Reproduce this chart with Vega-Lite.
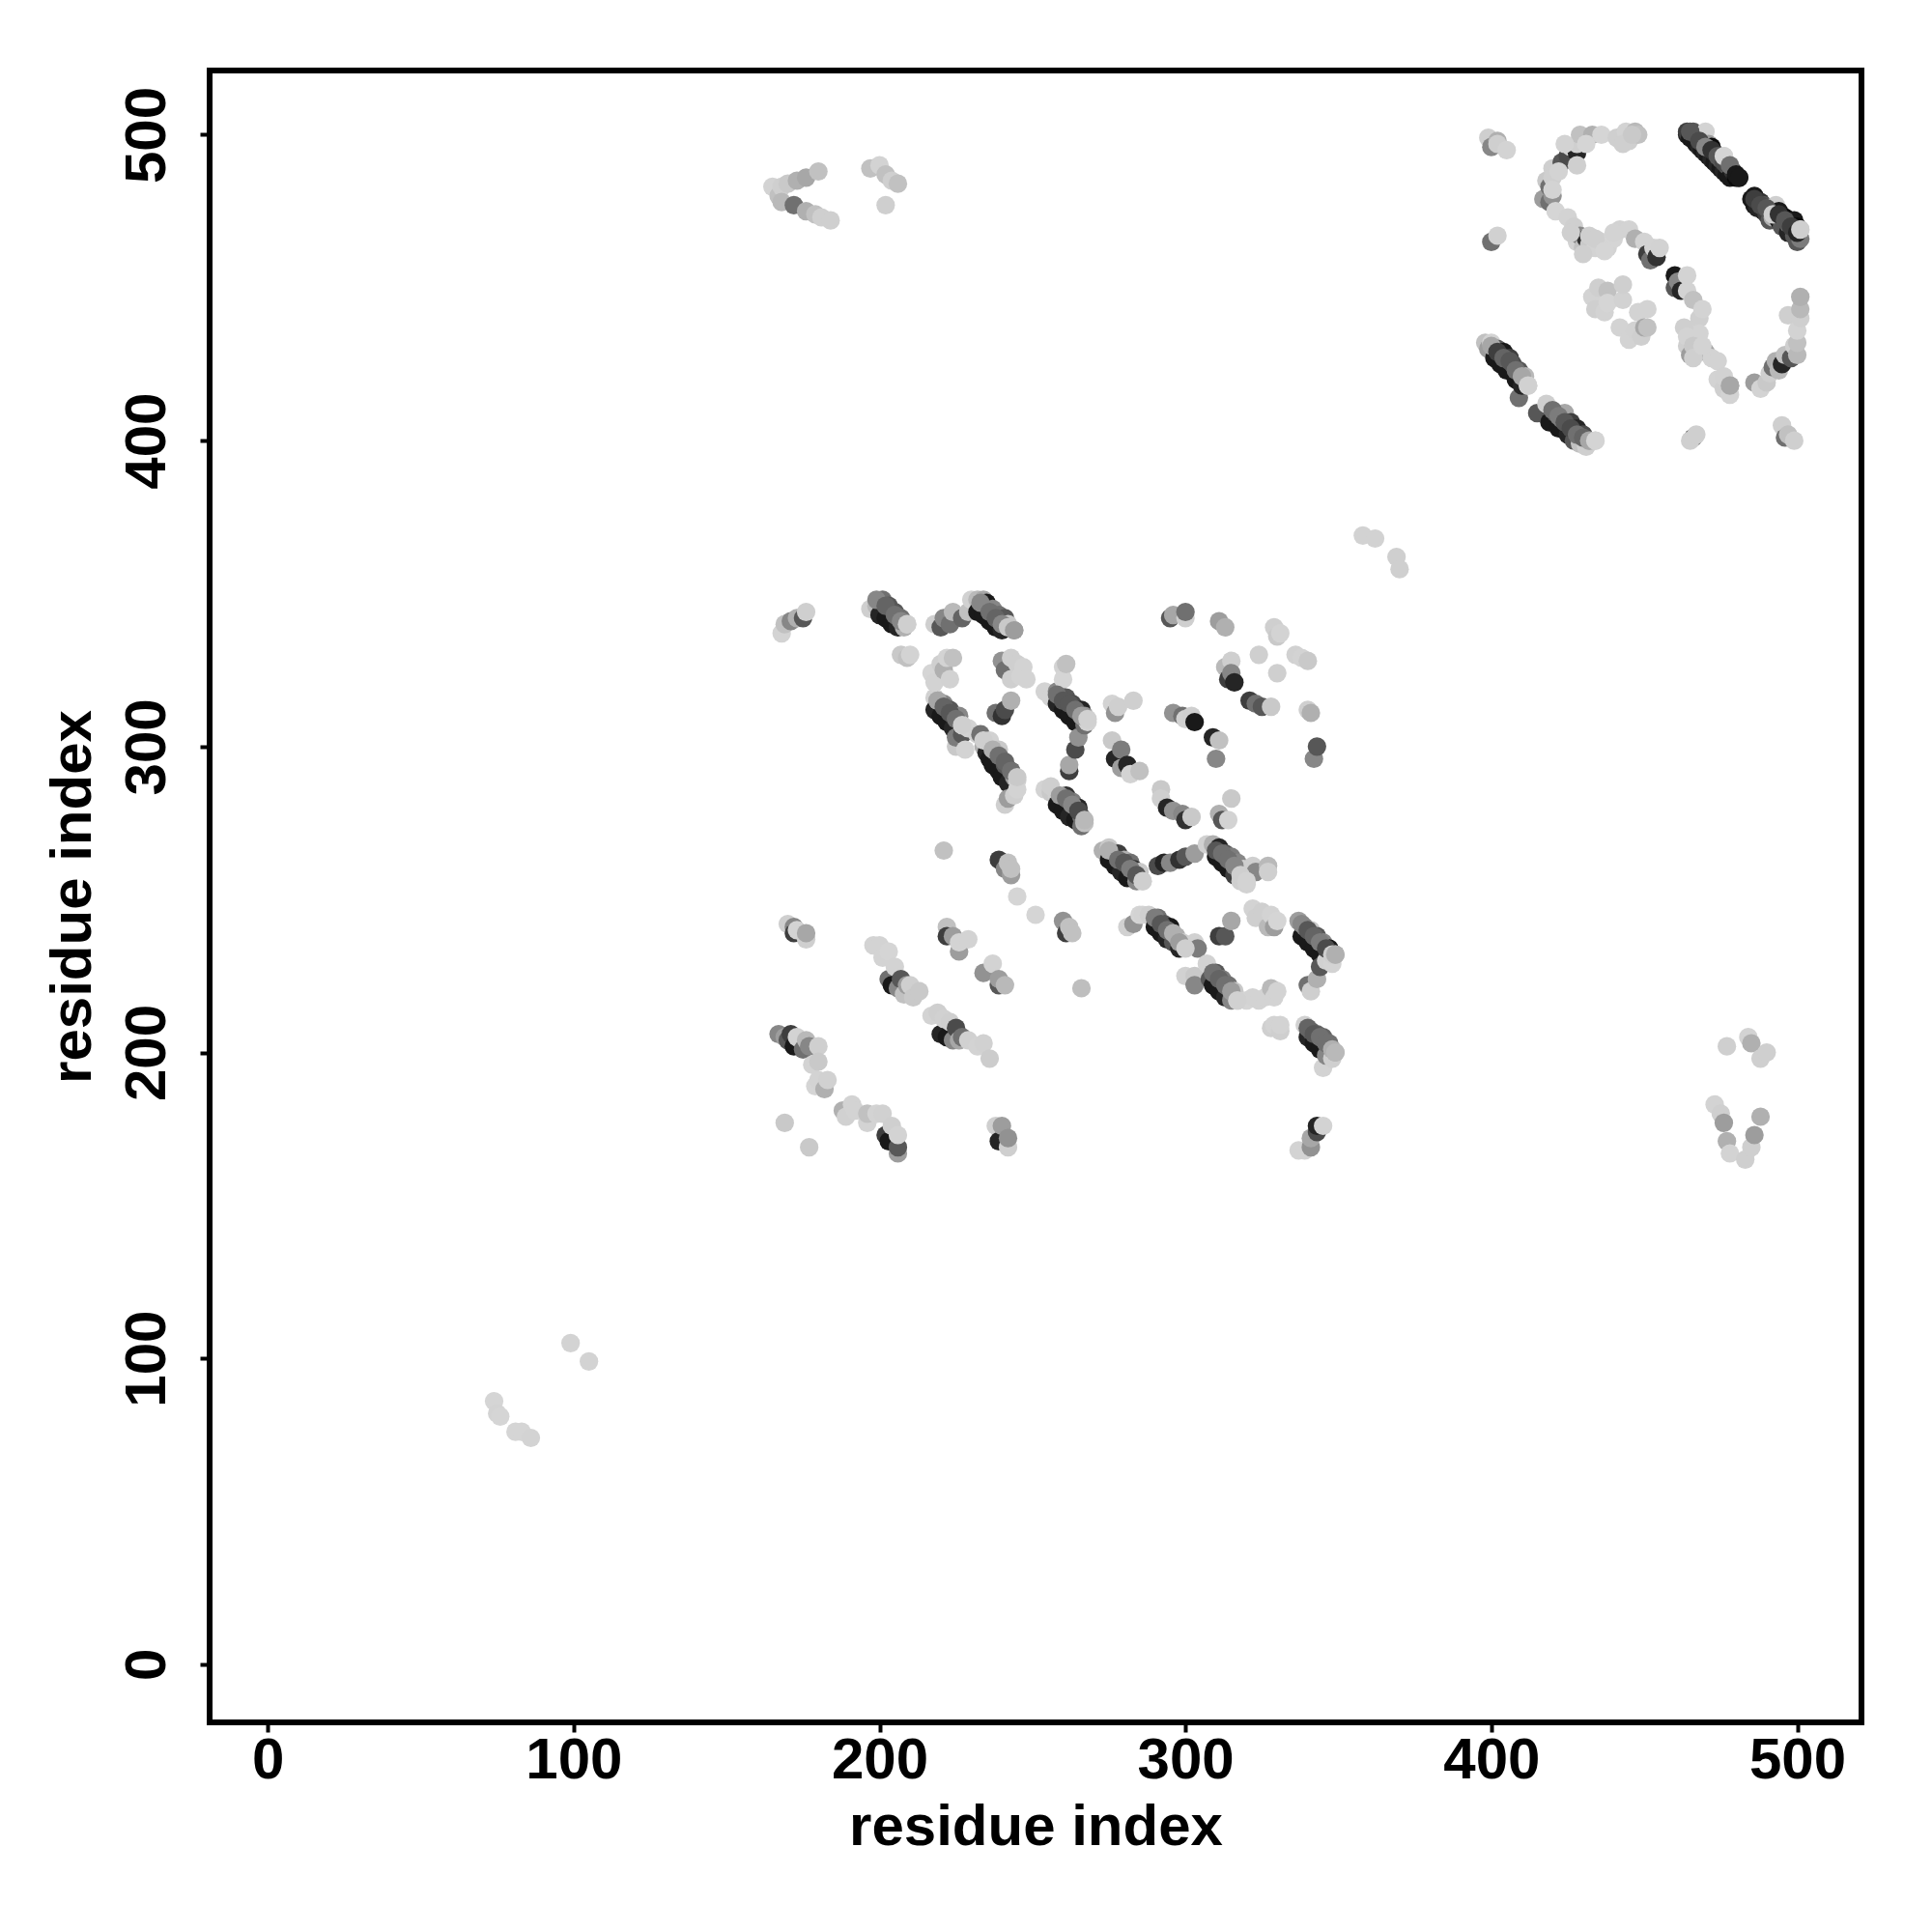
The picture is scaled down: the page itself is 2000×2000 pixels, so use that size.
{"$schema":"https://vega.github.io/schema/vega-lite/v6.json","width":1710,"height":1710,"autosize":{"type":"none"},"padding":{"left":217,"top":73,"right":73,"bottom":217},"background":"white","config":{"view":{"stroke":"#000","strokeWidth":6},"font":"Liberation Sans"},
"data":{"values":[
{"x":74,"y":86,"v":0.03},{"x":75,"y":82,"v":0.05},{"x":76,"y":81,"v":0.03},{"x":81,"y":76,"v":0.03},{"x":83,"y":76,"v":0.03},{"x":86,"y":74,"v":0.05},{"x":99,"y":105,"v":0.05},{"x":105,"y":99,"v":0.05},
{"x":165,"y":483,"v":0.05},{"x":167,"y":480,"v":0.2},{"x":168,"y":483,"v":0.1},{"x":168,"y":478,"v":0.25},{"x":170,"y":484,"v":0.15},{"x":172,"y":477,"v":0.6},{"x":173,"y":485,"v":0.3},{"x":176,"y":486,"v":0.35},{"x":176,"y":475,"v":0.3},{"x":179,"y":474,"v":0.2},{"x":180,"y":488,"v":0.2},{"x":181,"y":473,"v":0.1},{"x":184,"y":472,"v":0.1},
{"x":197,"y":489,"v":0.2},{"x":200,"y":490,"v":0.05},{"x":202,"y":487,"v":0.2},{"x":202,"y":477,"v":0.1},{"x":204,"y":485,"v":0.1},{"x":206,"y":484,"v":0.2},
{"x":168,"y":337,"v":0.05},{"x":169,"y":340,"v":0.2},{"x":171,"y":341,"v":0.5},{"x":173,"y":342,"v":0.3},{"x":175,"y":342,"v":0.7},{"x":176,"y":344,"v":0.1},
{"x":170,"y":242,"v":0.1},{"x":172,"y":241,"v":0.5},{"x":172,"y":239,"v":0.8},{"x":173,"y":240,"v":0.05},{"x":176,"y":237,"v":0.1},{"x":176,"y":239,"v":0.35},
{"x":169,"y":177,"v":0.15},{"x":177,"y":169,"v":0.15},
{"x":167,"y":206,"v":0.5},{"x":169,"y":205,"v":0.4},{"x":170,"y":204,"v":0.7},{"x":171,"y":206,"v":0.8},{"x":172,"y":202,"v":0.95},{"x":173,"y":205,"v":0.05},{"x":175,"y":201,"v":0.6},{"x":176,"y":204,"v":0.25},{"x":177,"y":202,"v":0.5},{"x":178,"y":196,"v":0.05},{"x":180,"y":202,"v":0.1},{"x":180,"y":197,"v":0.15},{"x":179,"y":189,"v":0.03},{"x":180,"y":191,"v":0.05},{"x":182,"y":188,"v":0.3},{"x":183,"y":191,"v":0.08},
{"x":188,"y":181,"v":0.3},{"x":189,"y":179,"v":0.08},{"x":191,"y":183,"v":0.05},{"x":192,"y":181,"v":0.05},{"x":196,"y":177,"v":0.05},{"x":196,"y":180,"v":0.2},{"x":199,"y":180,"v":0.05},{"x":201,"y":180,"v":0.08},{"x":202,"y":173,"v":0.8},{"x":203,"y":171,"v":0.95},{"x":204,"y":176,"v":0.1},{"x":206,"y":167,"v":0.4},{"x":206,"y":169,"v":0.7},{"x":206,"y":173,"v":0.05},
{"x":198,"y":235,"v":0.05},{"x":200,"y":235,"v":0.05},{"x":201,"y":231,"v":0.05},{"x":203,"y":233,"v":0.03},{"x":203,"y":224,"v":0.6},{"x":204,"y":222,"v":0.95},{"x":205,"y":228,"v":0.05},{"x":206,"y":221,"v":0.5},{"x":207,"y":224,"v":0.7},{"x":208,"y":219,"v":0.2},{"x":209,"y":222,"v":0.4},{"x":210,"y":222,"v":0.1},{"x":211,"y":218,"v":0.15},{"x":213,"y":220,"v":0.15},
{"x":197,"y":345,"v":0.1},{"x":199,"y":346,"v":0.25},{"x":200,"y":343,"v":0.9},{"x":201,"y":348,"v":0.6},{"x":202,"y":342,"v":0.95},{"x":203,"y":346,"v":0.7},{"x":204,"y":340,"v":0.95},{"x":205,"y":344,"v":0.7},{"x":206,"y":339,"v":0.9},{"x":207,"y":342,"v":0.6},{"x":208,"y":339,"v":0.3},{"x":209,"y":340,"v":0.08},
{"x":207,"y":330,"v":0.15},{"x":209,"y":329,"v":0.2},{"x":210,"y":330,"v":0.05},
{"x":217,"y":212,"v":0.05},{"x":219,"y":213,"v":0.1},{"x":220,"y":206,"v":0.9},{"x":221,"y":211,"v":0.08},{"x":222,"y":205,"v":0.95},{"x":223,"y":210,"v":0.1},{"x":224,"y":204,"v":0.5},{"x":225,"y":208,"v":0.75},{"x":226,"y":204,"v":0.35},{"x":227,"y":205,"v":0.6},{"x":229,"y":204,"v":0.08},{"x":232,"y":202,"v":0.05},{"x":234,"y":203,"v":0.08},{"x":236,"y":198,"v":0.12},
{"x":222,"y":241,"v":0.2},{"x":222,"y":238,"v":0.8},{"x":224,"y":238,"v":0.4},{"x":226,"y":233,"v":0.4},{"x":226,"y":236,"v":0.05},{"x":229,"y":237,"v":0.05},
{"x":234,"y":226,"v":0.45},{"x":237,"y":229,"v":0.05},{"x":239,"y":222,"v":0.7},{"x":239,"y":224,"v":0.4},{"x":241,"y":222,"v":0.25},
{"x":238,"y":176,"v":0.1},{"x":239,"y":171,"v":0.9},{"x":240,"y":176,"v":0.4},{"x":242,"y":169,"v":0.1},{"x":242,"y":172,"v":0.45},
{"x":218,"y":340,"v":0.1},{"x":220,"y":339,"v":0.7},{"x":221,"y":342,"v":0.5},{"x":223,"y":340,"v":0.6},{"x":224,"y":344,"v":0.25},{"x":227,"y":342,"v":0.65},{"x":229,"y":344,"v":0.2},{"x":230,"y":348,"v":0.08},{"x":232,"y":348,"v":0.25},{"x":232,"y":344,"v":0.95},{"x":234,"y":348,"v":0.35},{"x":234,"y":343,"v":0.95},{"x":235,"y":347,"v":0.95},{"x":236,"y":341,"v":0.95},{"x":237,"y":345,"v":0.5},{"x":238,"y":339,"v":0.95},{"x":239,"y":343,"v":0.6},{"x":240,"y":338,"v":0.9},{"x":241,"y":342,"v":0.7},{"x":242,"y":340,"v":0.15},{"x":244,"y":338,"v":0.35},
{"x":218,"y":316,"v":0.08},{"x":218,"y":312,"v":0.9},{"x":219,"y":315,"v":0.3},{"x":220,"y":310,"v":0.95},{"x":221,"y":314,"v":0.5},{"x":222,"y":308,"v":0.95},{"x":223,"y":312,"v":0.7},{"x":224,"y":306,"v":0.9},{"x":225,"y":300,"v":0.15},{"x":225,"y":303,"v":0.55},{"x":226,"y":310,"v":0.5},{"x":227,"y":304,"v":0.7},{"x":227,"y":307,"v":0.07},{"x":228,"y":299,"v":0.05},{"x":229,"y":306,"v":0.05},
{"x":217,"y":324,"v":0.03},{"x":218,"y":321,"v":0.05},{"x":220,"y":327,"v":0.1},{"x":221,"y":325,"v":0.3},{"x":222,"y":329,"v":0.05},{"x":223,"y":322,"v":0.07},{"x":224,"y":329,"v":0.2},
{"x":232,"y":304,"v":0.08},{"x":233,"y":304,"v":0.6},{"x":234,"y":300,"v":0.3},{"x":235,"y":298,"v":0.9},{"x":236,"y":302,"v":0.07},{"x":236,"y":296,"v":0.95},{"x":237,"y":294,"v":0.95},{"x":238,"y":298,"v":0.85},{"x":239,"y":292,"v":0.95},{"x":239,"y":299,"v":0.15},{"x":240,"y":290,"v":0.95},{"x":241,"y":281,"v":0.1},{"x":241,"y":294,"v":0.7},{"x":242,"y":288,"v":0.9},{"x":242,"y":283,"v":0.4},{"x":243,"y":292,"v":0.75},{"x":244,"y":284,"v":0.1},{"x":244,"y":290,"v":0.4},{"x":245,"y":289,"v":0.1},{"x":245,"y":286,"v":0.05},
{"x":238,"y":311,"v":0.6},{"x":240,"y":310,"v":0.85},{"x":241,"y":312,"v":0.75},{"x":243,"y":315,"v":0.3},
{"x":239,"y":263,"v":0.8},{"x":241,"y":260,"v":0.5},{"x":242,"y":262,"v":0.2},{"x":243,"y":258,"v":0.4},{"x":243,"y":260,"v":0.2},
{"x":240,"y":328,"v":0.45},{"x":241,"y":325,"v":0.6},{"x":243,"y":329,"v":0.1},{"x":243,"y":322,"v":0.1},{"x":245,"y":327,"v":0.1},{"x":246,"y":323,"v":0.05},{"x":247,"y":326,"v":0.05},{"x":248,"y":322,"v":0.05},
{"x":221,"y":266,"v":0.2},{"x":245,"y":251,"v":0.03},{"x":251,"y":245,"v":0.03},
{"x":254,"y":318,"v":0.05},{"x":256,"y":316,"v":0.05},{"x":258,"y":318,"v":0.5},{"x":258,"y":314,"v":0.9},{"x":260,"y":326,"v":0.05},{"x":260,"y":322,"v":0.03},{"x":260,"y":312,"v":0.95},{"x":261,"y":316,"v":0.7},{"x":261,"y":327,"v":0.2},{"x":262,"y":310,"v":0.95},{"x":262,"y":292,"v":0.8},{"x":262,"y":294,"v":0.35},{"x":263,"y":314,"v":0.75},{"x":264,"y":308,"v":0.95},{"x":264,"y":299,"v":0.75},{"x":265,"y":303,"v":0.45},{"x":266,"y":312,"v":0.9},{"x":267,"y":307,"v":0.6},{"x":267,"y":310,"v":0.45},{"x":268,"y":308,"v":0.05},
{"x":260,"y":243,"v":0.45},{"x":261,"y":239,"v":0.8},{"x":262,"y":241,"v":0.2},{"x":263,"y":239,"v":0.2},{"x":266,"y":221,"v":0.22},
{"x":254,"y":286,"v":0.05},{"x":256,"y":285,"v":0.15},{"x":258,"y":284,"v":0.1},{"x":258,"y":281,"v":0.95},{"x":260,"y":279,"v":0.95},{"x":261,"y":284,"v":0.85},{"x":262,"y":277,"v":0.9},{"x":263,"y":282,"v":0.55},{"x":264,"y":276,"v":0.95},{"x":265,"y":280,"v":0.9},{"x":266,"y":274,"v":0.6},{"x":266,"y":277,"v":0.6},{"x":267,"y":275,"v":0.2},
{"x":273,"y":266,"v":0.3},{"x":275,"y":267,"v":0.15},{"x":275,"y":263,"v":0.95},{"x":277,"y":261,"v":0.95},{"x":278,"y":265,"v":0.8},{"x":279,"y":259,"v":0.9},{"x":280,"y":263,"v":0.3},{"x":281,"y":257,"v":0.95},{"x":282,"y":262,"v":0.6},{"x":283,"y":260,"v":0.85},{"x":284,"y":256,"v":0.5},{"x":285,"y":259,"v":0.15},{"x":286,"y":256,"v":0.08},
{"x":276,"y":314,"v":0.05},{"x":277,"y":311,"v":0.45},{"x":278,"y":313,"v":0.1},{"x":283,"y":315,"v":0.1},{"x":276,"y":302,"v":0.15},{"x":277,"y":296,"v":0.9},{"x":279,"y":299,"v":0.55},{"x":279,"y":293,"v":0.4},{"x":281,"y":294,"v":0.9},{"x":282,"y":291,"v":0.05},{"x":285,"y":292,"v":0.2},
{"x":281,"y":241,"v":0.08},{"x":283,"y":242,"v":0.45},{"x":285,"y":245,"v":0.03},{"x":286,"y":245,"v":0.05},{"x":288,"y":245,"v":0.1},{"x":290,"y":241,"v":0.95},{"x":291,"y":244,"v":0.6},{"x":292,"y":239,"v":0.95},{"x":293,"y":242,"v":0.7},{"x":294,"y":237,"v":0.9},{"x":295,"y":241,"v":0.95},{"x":296,"y":236,"v":0.7},{"x":297,"y":238,"v":0.3},{"x":298,"y":234,"v":0.9},{"x":299,"y":236,"v":0.1},{"x":303,"y":236,"v":0.08},{"x":304,"y":234,"v":0.55},
{"x":291,"y":261,"v":0.75},{"x":293,"y":262,"v":0.9},{"x":295,"y":262,"v":0.5},{"x":298,"y":263,"v":0.85},{"x":300,"y":264,"v":0.7},{"x":303,"y":265,"v":0.4},
{"x":292,"y":286,"v":0.15},{"x":292,"y":283,"v":0.1},{"x":294,"y":280,"v":0.9},{"x":296,"y":279,"v":0.45},{"x":299,"y":278,"v":0.5},{"x":300,"y":276,"v":0.85},{"x":302,"y":277,"v":0.15},
{"x":295,"y":342,"v":0.7},{"x":296,"y":343,"v":0.35},{"x":300,"y":342,"v":0.1},{"x":300,"y":344,"v":0.6},
{"x":296,"y":311,"v":0.45},{"x":299,"y":310,"v":0.6},{"x":300,"y":309,"v":0.08},{"x":302,"y":310,"v":0.1},{"x":303,"y":308,"v":0.95},
{"x":300,"y":225,"v":0.08},{"x":303,"y":225,"v":0.15},{"x":303,"y":222,"v":0.5},{"x":307,"y":229,"v":0.07},{"x":308,"y":224,"v":0.7},{"x":309,"y":222,"v":0.95},{"x":310,"y":226,"v":0.7},{"x":311,"y":220,"v":0.95},{"x":312,"y":224,"v":0.55},{"x":313,"y":218,"v":0.9},{"x":314,"y":222,"v":0.6},{"x":315,"y":217,"v":0.5},{"x":316,"y":220,"v":0.15},{"x":317,"y":217,"v":0.05},
{"x":307,"y":268,"v":0.08},{"x":309,"y":268,"v":0.3},{"x":310,"y":264,"v":0.95},{"x":311,"y":267,"v":0.9},{"x":312,"y":262,"v":0.95},{"x":313,"y":265,"v":0.7},{"x":314,"y":260,"v":0.95},{"x":315,"y":264,"v":0.55},{"x":316,"y":258,"v":0.8},{"x":317,"y":262,"v":0.5},{"x":318,"y":256,"v":0.1},{"x":319,"y":260,"v":0.1},{"x":320,"y":255,"v":0.07},{"x":322,"y":261,"v":0.1},{"x":323,"y":259,"v":0.5},{"x":327,"y":261,"v":0.25},{"x":327,"y":259,"v":0.1},
{"x":309,"y":303,"v":0.9},{"x":310,"y":296,"v":0.5},{"x":311,"y":302,"v":0.2},{"x":311,"y":278,"v":0.3},{"x":312,"y":276,"v":0.7},{"x":314,"y":276,"v":0.05},{"x":315,"y":283,"v":0.15},
{"x":311,"y":238,"v":0.8},{"x":313,"y":238,"v":0.7},{"x":315,"y":243,"v":0.35},
{"x":311,"y":341,"v":0.4},{"x":313,"y":339,"v":0.3},{"x":313,"y":326,"v":0.25},{"x":314,"y":322,"v":0.8},{"x":315,"y":328,"v":0.1},{"x":315,"y":324,"v":0.5},{"x":316,"y":321,"v":0.9},
{"x":321,"y":315,"v":0.8},{"x":323,"y":314,"v":0.6},{"x":324,"y":330,"v":0.1},{"x":325,"y":313,"v":0.7},{"x":328,"y":313,"v":0.15},
{"x":322,"y":247,"v":0.05},{"x":323,"y":244,"v":0.1},{"x":325,"y":246,"v":0.1},{"x":327,"y":241,"v":0.25},{"x":328,"y":245,"v":0.05},{"x":329,"y":241,"v":0.4},{"x":330,"y":243,"v":0.03},
{"x":320,"y":217,"v":0.03},{"x":322,"y":218,"v":0.05},{"x":324,"y":217,"v":0.05},{"x":326,"y":218,"v":0.05},{"x":328,"y":221,"v":0.25},{"x":329,"y":218,"v":0.05},{"x":330,"y":220,"v":0.05},
{"x":328,"y":208,"v":0.1},{"x":329,"y":209,"v":0.05},{"x":331,"y":207,"v":0.1},{"x":331,"y":209,"v":0.05},
{"x":329,"y":339,"v":0.1},{"x":330,"y":336,"v":0.15},{"x":331,"y":337,"v":0.05},{"x":330,"y":324,"v":0.1},{"x":336,"y":330,"v":0.08},{"x":338,"y":329,"v":0.05},{"x":340,"y":328,"v":0.15},{"x":340,"y":312,"v":0.1},{"x":341,"y":311,"v":0.3},{"x":342,"y":296,"v":0.5},{"x":343,"y":300,"v":0.7},
{"x":337,"y":168,"v":0.05},{"x":339,"y":168,"v":0.05},{"x":341,"y":169,"v":0.45},{"x":341,"y":172,"v":0.35},{"x":343,"y":174,"v":0.75},{"x":343,"y":176,"v":0.9},{"x":345,"y":176,"v":0.05},
{"x":337,"y":243,"v":0.4},{"x":338,"y":238,"v":0.95},{"x":339,"y":241,"v":0.55},{"x":340,"y":236,"v":0.95},{"x":340,"y":222,"v":0.6},{"x":341,"y":240,"v":0.15},{"x":341,"y":220,"v":0.1},{"x":342,"y":234,"v":0.95},{"x":343,"y":238,"v":0.7},{"x":343,"y":224,"v":0.3},{"x":344,"y":232,"v":0.95},{"x":344,"y":228,"v":0.7},{"x":345,"y":236,"v":0.5},{"x":346,"y":230,"v":0.08},{"x":347,"y":234,"v":0.95},{"x":348,"y":229,"v":0.05},{"x":349,"y":232,"v":0.3},
{"x":339,"y":209,"v":0.08},{"x":340,"y":205,"v":0.9},{"x":341,"y":207,"v":0.7},{"x":342,"y":203,"v":0.95},{"x":343,"y":206,"v":0.65},{"x":344,"y":201,"v":0.95},{"x":345,"y":205,"v":0.65},{"x":345,"y":195,"v":0.05},{"x":346,"y":199,"v":0.5},{"x":347,"y":203,"v":0.6},{"x":348,"y":198,"v":0.1},{"x":349,"y":200,"v":0.3},
{"x":358,"y":369,"v":0.07},{"x":362,"y":368,"v":0.07},{"x":369,"y":362,"v":0.1},{"x":370,"y":358,"v":0.1},
{"x":398,"y":432,"v":0.2},{"x":399,"y":430,"v":0.4},{"x":400,"y":432,"v":0.05},{"x":401,"y":427,"v":0.95},{"x":402,"y":430,"v":0.7},{"x":403,"y":425,"v":0.95},{"x":404,"y":429,"v":0.95},{"x":405,"y":423,"v":0.95},{"x":406,"y":427,"v":0.8},{"x":407,"y":425,"v":0.75},{"x":408,"y":420,"v":0.95},{"x":409,"y":423,"v":0.7},{"x":409,"y":414,"v":0.6},{"x":410,"y":418,"v":0.9},{"x":411,"y":421,"v":0.25},{"x":412,"y":418,"v":0.08},
{"x":399,"y":499,"v":0.1},{"x":400,"y":496,"v":0.5},{"x":402,"y":498,"v":0.3},{"x":402,"y":497,"v":0.1},{"x":405,"y":495,"v":0.05},{"x":400,"y":465,"v":0.6},{"x":402,"y":467,"v":0.08},
{"x":415,"y":409,"v":0.7},{"x":418,"y":412,"v":0.1},{"x":419,"y":406,"v":0.95},{"x":421,"y":409,"v":0.7},{"x":422,"y":404,"v":0.95},{"x":423,"y":407,"v":0.55},{"x":424,"y":409,"v":0.35},{"x":425,"y":402,"v":0.9},{"x":426,"y":406,"v":0.8},{"x":427,"y":400,"v":0.7},{"x":428,"y":404,"v":0.9},{"x":429,"y":399,"v":0.2},{"x":430,"y":402,"v":0.75},{"x":431,"y":398,"v":0.1},{"x":432,"y":400,"v":0.3},{"x":434,"y":400,"v":0.05},
{"x":417,"y":479,"v":0.4},{"x":418,"y":485,"v":0.15},{"x":419,"y":478,"v":0.6},{"x":420,"y":480,"v":0.45},{"x":420,"y":489,"v":0.1},{"x":419,"y":483,"v":0.6},{"x":420,"y":486,"v":0.1},{"x":421,"y":475,"v":0.03},{"x":423,"y":491,"v":0.7},{"x":425,"y":473,"v":0.05},{"x":425,"y":493,"v":0.75},{"x":426,"y":496,"v":0.1},{"x":427,"y":470,"v":0.1},{"x":428,"y":494,"v":0.9},{"x":428,"y":465,"v":0.05},{"x":428,"y":497,"v":0.1},{"x":429,"y":500,"v":0.2},{"x":429,"y":467,"v":0.5},{"x":430,"y":463,"v":0.2},{"x":431,"y":466,"v":0.85},{"x":432,"y":464,"v":0.15},{"x":433,"y":500,"v":0.3},{"x":434,"y":463,"v":0.05},{"x":436,"y":500,"v":0.03},{"x":436,"y":465,"v":0.05},{"x":438,"y":463,"v":0.05},{"x":440,"y":466,"v":0.03},{"x":441,"y":499,"v":0.1},{"x":442,"y":469,"v":0.07},{"x":444,"y":501,"v":0.05},{"x":445,"y":498,"v":0.1},{"x":445,"y":469,"v":0.05},{"x":447,"y":466,"v":0.3},{"x":447,"y":501,"v":0.25},{"x":448,"y":500,"v":0.2},{"x":450,"y":465,"v":0.05},{"x":451,"y":461,"v":0.8},{"x":452,"y":459,"v":0.6},{"x":453,"y":463,"v":0.05},{"x":454,"y":460,"v":0.85},{"x":455,"y":463,"v":0.07},
{"x":433,"y":447,"v":0.05},{"x":434,"y":443,"v":0.1},{"x":435,"y":450,"v":0.1},{"x":437,"y":442,"v":0.05},{"x":438,"y":449,"v":0.2},{"x":438,"y":445,"v":0.02},{"x":443,"y":446,"v":0.07},{"x":443,"y":451,"v":0.1},
{"x":442,"y":437,"v":0.05},{"x":445,"y":433,"v":0.05},{"x":447,"y":436,"v":0.07},{"x":448,"y":442,"v":0.05},{"x":449,"y":434,"v":0.1},{"x":450,"y":437,"v":0.35},{"x":451,"y":443,"v":0.05},{"x":451,"y":437,"v":0.2},
{"x":460,"y":454,"v":0.95},{"x":460,"y":450,"v":0.7},{"x":461,"y":452,"v":0.5},{"x":462,"y":449,"v":0.9},{"x":464,"y":454,"v":0.05},{"x":464,"y":449,"v":0.05},{"x":464,"y":431,"v":0.1},{"x":465,"y":436,"v":0.05},{"x":465,"y":428,"v":0.4},{"x":466,"y":446,"v":0.2},{"x":466,"y":401,"v":0.6},{"x":465,"y":400,"v":0.1},{"x":467,"y":432,"v":0.8},{"x":467,"y":402,"v":0.1},{"x":468,"y":440,"v":0.1},{"x":468,"y":435,"v":0.05},{"x":469,"y":443,"v":0.05},{"x":470,"y":429,"v":0.35},{"x":472,"y":427,"v":0.05},{"x":474,"y":426,"v":0.05},
{"x":474,"y":420,"v":0.05},{"x":477,"y":417,"v":0.25},{"x":478,"y":418,"v":0.35},
{"x":473,"y":183,"v":0.05},{"x":475,"y":180,"v":0.1},{"x":476,"y":177,"v":0.4},{"x":477,"y":202,"v":0.1},{"x":477,"y":171,"v":0.3},{"x":478,"y":167,"v":0.05},{"x":483,"y":165,"v":0.1},{"x":484,"y":205,"v":0.05},{"x":485,"y":169,"v":0.1},{"x":485,"y":203,"v":0.3},{"x":486,"y":173,"v":0.4},{"x":488,"y":179,"v":0.3},{"x":488,"y":198,"v":0.1},{"x":490,"y":200,"v":0.1},
{"x":464,"y":500,"v":0.9},{"x":464,"y":501,"v":0.8},{"x":465,"y":499,"v":0.95},{"x":466,"y":501,"v":0.7},{"x":467,"y":497,"v":0.95},{"x":467,"y":500,"v":0.8},{"x":468,"y":496,"v":0.9},{"x":469,"y":495,"v":0.95},{"x":469,"y":498,"v":0.7},{"x":470,"y":501,"v":0.05},{"x":470,"y":494,"v":0.9},{"x":471,"y":493,"v":0.95},{"x":471,"y":497,"v":0.4},{"x":472,"y":492,"v":0.9},{"x":472,"y":496,"v":1},{"x":473,"y":491,"v":0.95},{"x":473,"y":494,"v":0.9},{"x":474,"y":490,"v":0.9},{"x":475,"y":489,"v":0.95},{"x":475,"y":492,"v":0.7},{"x":476,"y":488,"v":0.9},{"x":476,"y":493,"v":0.03},{"x":477,"y":487,"v":0.95},{"x":477,"y":490,"v":0.7},{"x":478,"y":486,"v":0.95},{"x":479,"y":488,"v":0.85},{"x":480,"y":486,"v":1},{"x":481,"y":486,"v":1},
{"x":485,"y":479,"v":0.95},{"x":486,"y":477,"v":0.95},{"x":486,"y":480,"v":0.95},{"x":487,"y":476,"v":0.9},{"x":488,"y":478,"v":0.85},{"x":489,"y":475,"v":0.9},{"x":489,"y":477,"v":0.7},{"x":490,"y":474,"v":0.8},{"x":491,"y":472,"v":0.7},{"x":492,"y":473,"v":0.3},{"x":493,"y":477,"v":0.1},{"x":494,"y":472,"v":0.95},{"x":494,"y":475,"v":0.95},{"x":495,"y":470,"v":0.7},{"x":496,"y":473,"v":1},{"x":497,"y":468,"v":0.9},{"x":497,"y":471,"v":0.6},{"x":498,"y":470,"v":0.8},{"x":499,"y":467,"v":0.7},{"x":499,"y":472,"v":0.95},{"x":500,"y":465,"v":0.7},{"x":500,"y":470,"v":1},{"x":501,"y":466,"v":0.55},{"x":501,"y":469,"v":0.1},
{"x":486,"y":419,"v":0.4},{"x":488,"y":417,"v":0.05},{"x":490,"y":419,"v":0.15},{"x":491,"y":422,"v":0.1},{"x":492,"y":424,"v":0.6},{"x":493,"y":426,"v":0.3},{"x":494,"y":423,"v":0.25},{"x":495,"y":425,"v":0.9},{"x":495,"y":405,"v":0.1},{"x":496,"y":401,"v":0.6},{"x":496,"y":428,"v":0.2},{"x":497,"y":402,"v":0.2},{"x":497,"y":441,"v":0.1},{"x":498,"y":427,"v":0.7},{"x":499,"y":400,"v":0.1},{"x":499,"y":431,"v":0.1},{"x":500,"y":428,"v":0.25},{"x":500,"y":432,"v":0.2},{"x":500,"y":436,"v":0.05},{"x":501,"y":440,"v":0.1},{"x":501,"y":443,"v":0.25},{"x":501,"y":447,"v":0.3},
{"x":199,"y":348,"v":0.5},{"x":202,"y":346,"v":0.65},{"x":205,"y":343,"v":0.6},{"x":207,"y":341,"v":0.5},{"x":209,"y":340,"v":0.1},
{"x":233,"y":347,"v":0.5},{"x":236,"y":344,"v":0.6},{"x":238,"y":342,"v":0.65},{"x":240,"y":340,"v":0.5},{"x":242,"y":339,"v":0.15},{"x":244,"y":338,"v":0.4},
{"x":219,"y":315,"v":0.35},{"x":221,"y":313,"v":0.65},{"x":223,"y":311,"v":0.7},{"x":225,"y":309,"v":0.6},{"x":227,"y":307,"v":0.1},
{"x":234,"y":302,"v":0.1},{"x":237,"y":299,"v":0.3},{"x":239,"y":297,"v":0.6},{"x":241,"y":295,"v":0.65},{"x":243,"y":292,"v":0.6},{"x":245,"y":290,"v":0.15},
{"x":258,"y":317,"v":0.6},{"x":260,"y":315,"v":0.7},{"x":262,"y":314,"v":0.7},{"x":264,"y":312,"v":0.6},{"x":266,"y":310,"v":0.4},{"x":268,"y":309,"v":0.08},
{"x":256,"y":287,"v":0.1},{"x":259,"y":284,"v":0.4},{"x":261,"y":283,"v":0.6},{"x":263,"y":281,"v":0.5},{"x":265,"y":279,"v":0.75},{"x":267,"y":276,"v":0.25},
{"x":275,"y":266,"v":0.3},{"x":278,"y":263,"v":0.6},{"x":280,"y":262,"v":0.7},{"x":282,"y":260,"v":0.55},{"x":284,"y":258,"v":0.7},{"x":286,"y":256,"v":0.1},
{"x":290,"y":244,"v":0.55},{"x":292,"y":242,"v":0.7},{"x":294,"y":240,"v":0.6},{"x":296,"y":239,"v":0.3},{"x":298,"y":236,"v":0.4},{"x":300,"y":234,"v":0.1},
{"x":309,"y":226,"v":0.6},{"x":311,"y":224,"v":0.65},{"x":313,"y":222,"v":0.6},{"x":315,"y":220,"v":0.4},{"x":317,"y":217,"v":0.08},
{"x":310,"y":266,"v":0.7},{"x":312,"y":265,"v":0.6},{"x":314,"y":263,"v":0.6},{"x":316,"y":261,"v":0.5},{"x":318,"y":258,"v":0.1},{"x":320,"y":256,"v":0.05},
{"x":338,"y":242,"v":0.5},{"x":340,"y":240,"v":0.7},{"x":342,"y":238,"v":0.65},{"x":344,"y":236,"v":0.55},{"x":346,"y":234,"v":0.75},{"x":348,"y":232,"v":0.1},{"x":349,"y":232,"v":0.3},
{"x":340,"y":208,"v":0.65},{"x":342,"y":206,"v":0.7},{"x":344,"y":205,"v":0.6},{"x":346,"y":203,"v":0.6},{"x":348,"y":201,"v":0.3},{"x":349,"y":200,"v":0.25},
{"x":400,"y":431,"v":0.35},{"x":402,"y":429,"v":0.8},{"x":404,"y":427,"v":0.65},{"x":406,"y":426,"v":0.7},{"x":408,"y":423,"v":0.6},{"x":410,"y":421,"v":0.35},{"x":412,"y":418,"v":0.08},
{"x":420,"y":410,"v":0.6},{"x":422,"y":408,"v":0.55},{"x":424,"y":406,"v":0.7},{"x":426,"y":404,"v":0.75},{"x":428,"y":402,"v":0.6},{"x":430,"y":401,"v":0.65},{"x":432,"y":400,"v":0.35},{"x":434,"y":400,"v":0.04},
{"x":465,"y":501,"v":0.7},{"x":468,"y":498,"v":0.75},{"x":470,"y":496,"v":0.5},{"x":472,"y":495,"v":0.85},{"x":474,"y":493,"v":0.7},{"x":476,"y":491,"v":0.75},{"x":476,"y":493,"v":0.03},{"x":478,"y":490,"v":0.6},{"x":480,"y":487,"v":0.95},{"x":481,"y":486,"v":0.95},
{"x":486,"y":479,"v":0.8},{"x":488,"y":477,"v":0.75},{"x":490,"y":476,"v":0.7},{"x":492,"y":474,"v":0.1},{"x":494,"y":474,"v":0.85},{"x":496,"y":472,"v":0.7},{"x":498,"y":470,"v":0.8},{"x":500,"y":468,"v":0.9},{"x":501,"y":469,"v":0.1},
{"x":463,"y":437,"v":0.1},{"x":464,"y":434,"v":0.05},{"x":466,"y":431,"v":0.15},{"x":466,"y":427,"v":0.1},{"x":469,"y":431,"v":0.05},{"x":476,"y":417,"v":0.1},{"x":476,"y":421,"v":0.07},{"x":478,"y":415,"v":0.05},{"x":478,"y":418,"v":0.35},
{"x":424,"y":497,"v":0.05},{"x":428,"y":490,"v":0.1},{"x":431,"y":497,"v":0.03},{"x":422,"y":488,"v":0.05},{"x":420,"y":482,"v":0.05},{"x":426,"y":468,"v":0.1},{"x":432,"y":467,"v":0.1},{"x":430,"y":461,"v":0.1},{"x":434,"y":466,"v":0.1},{"x":437,"y":462,"v":0.03},{"x":440,"y":468,"v":0.05},{"x":443,"y":497,"v":0.1},{"x":446,"y":500,"v":0.15}
]},
"mark":{"type":"circle","opacity":1},
"encoding":{
"x":{"field":"x","type":"quantitative","scale":{"domain":[-19,521],"nice":false,"zero":false},"axis":{"title":"residue index","values":[0,100,200,300,400,500],"grid":false,"domain":false,"tickColor":"#000","tickSize":10,"tickWidth":4,"labelFont":"Liberation Sans","labelFontWeight":"bold","labelFontSize":60,"labelColor":"#000","labelPadding":0,"titleFont":"Liberation Sans","titleFontWeight":"bold","titleFontSize":60,"titleColor":"#000","titlePadding":10}},
"y":{"field":"y","type":"quantitative","scale":{"domain":[-19,521],"nice":false,"zero":false},"axis":{"title":"residue index","values":[0,100,200,300,400,500],"grid":false,"domain":false,"tickColor":"#000","tickSize":10,"tickWidth":4,"labelAngle":270,"labelAlign":"center","labelBaseline":"bottom","labelFont":"Liberation Sans","labelFontWeight":"bold","labelFontSize":60,"labelColor":"#000","labelPadding":24,"titleFont":"Liberation Sans","titleFontWeight":"bold","titleFontSize":60,"titleColor":"#000","titlePadding":16}},
"color":{"field":"v","type":"quantitative","legend":null,"scale":{"type":"pow","exponent":1.5,"domain":[0,1],"range":["#d6d6d6","#0a0a0a"]}},
"size":{"value":370}
}}
